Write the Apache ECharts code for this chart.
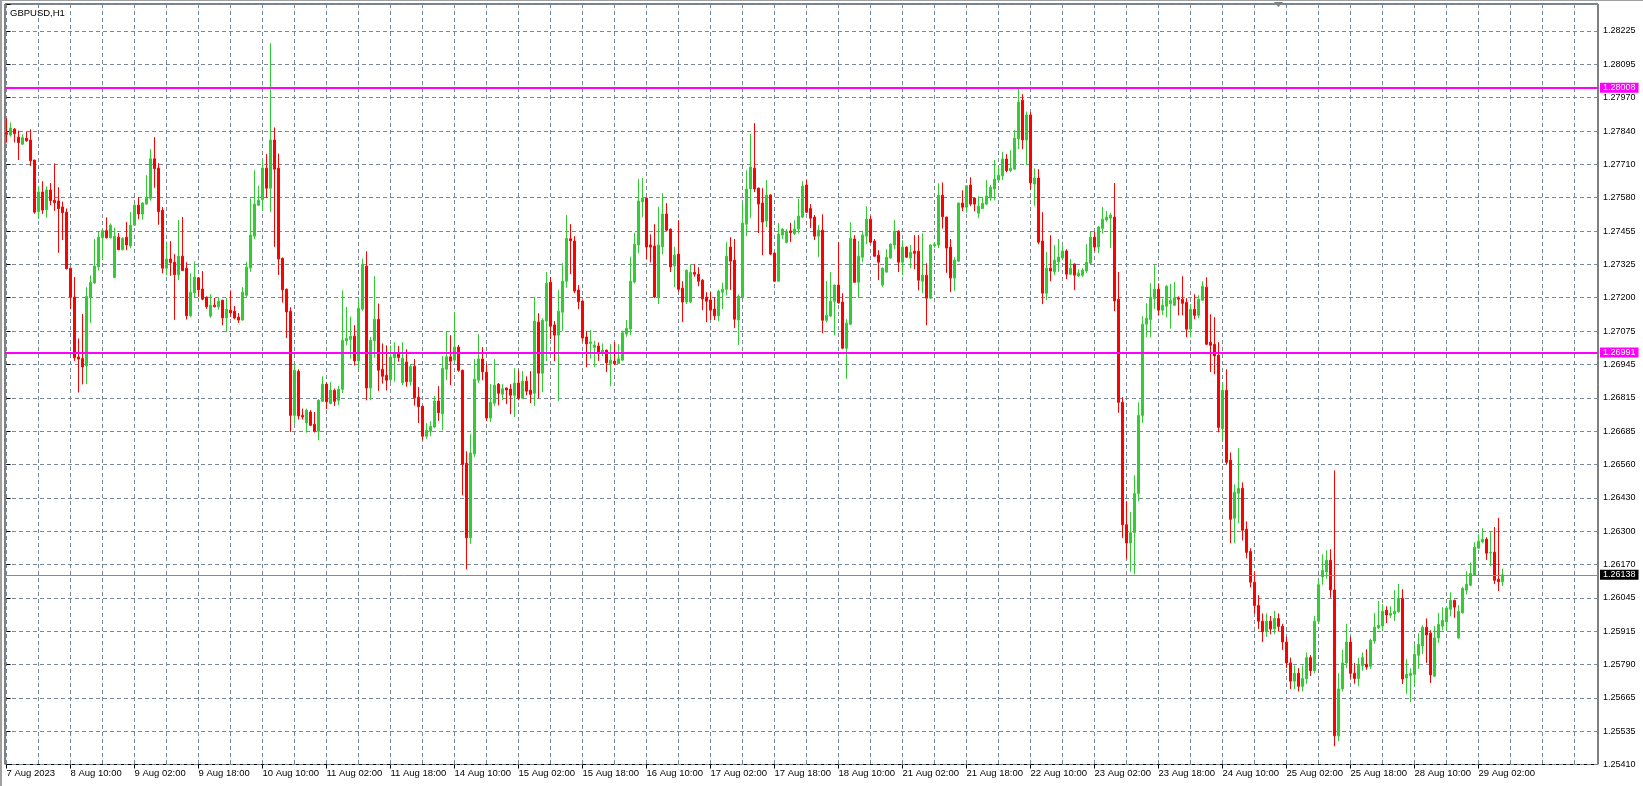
<!DOCTYPE html>
<html><head><meta charset="utf-8">
<script src="https://cdn.jsdelivr.net/npm/echarts@6/dist/echarts.min.js"></script>
<style>html,body{margin:0;padding:0;background:#fff;}#c{width:1643px;height:786px;}</style>
</head><body><div id="c"></div>
<script>
const symbolName = 'GBPUSD,H1';
// Each candle: [open, close, low, high]  (H1 bars)
const aug07 = [[1.27835,1.27829,1.27797,1.27890],[1.27826,1.27853,1.27820,1.27875],[1.27849,1.27831,1.27798,1.27852],[1.27818,1.27797,1.27730,1.27843],[1.27791,1.27816,1.27788,1.27829],[1.27814,1.27804,1.27800,1.27838]];
const aug08 = [[1.27807,1.27727,1.27707,1.27848],[1.27730,1.27530,1.27524,1.27731],[1.27532,1.27607,1.27505,1.27630],[1.27607,1.27538,1.27523,1.27649],[1.27539,1.27615,1.27509,1.27629],[1.27615,1.27574,1.27557,1.27642],[1.27576,1.27566,1.27535,1.27717],[1.27573,1.27543,1.27374,1.27626],[1.27550,1.27528,1.27423,1.27570],[1.27530,1.27313,1.27310,1.27544],[1.27315,1.27204,1.27158,1.27318],[1.27204,1.26971,1.26959,1.27281],[1.26974,1.26966,1.26838,1.27045],[1.26968,1.26936,1.26869,1.27139],[1.26940,1.27206,1.26870,1.27242],[1.27204,1.27260,1.27104,1.27287],[1.27258,1.27323,1.27254,1.27427],[1.27320,1.27434,1.27306,1.27454],[1.27432,1.27459,1.27350,1.27462],[1.27459,1.27432,1.27429,1.27510],[1.27432,1.27480,1.27428,1.27487],[1.27279,1.27438,1.27278,1.27471],[1.27434,1.27386,1.27384,1.27450],[1.27386,1.27430,1.27383,1.27434]];
const aug09 = [[1.27434,1.27404,1.27384,1.27492],[1.27400,1.27480,1.27391,1.27530],[1.27480,1.27557,1.27478,1.27560],[1.27557,1.27523,1.27503,1.27588],[1.27523,1.27565,1.27501,1.27569],[1.27561,1.27588,1.27560,1.27672],[1.27583,1.27735,1.27574,1.27772],[1.27735,1.27697,1.27624,1.27818],[1.27699,1.27532,1.27482,1.27718],[1.27537,1.27315,1.27295,1.27550],[1.27315,1.27350,1.27287,1.27418],[1.27350,1.27337,1.27286,1.27419],[1.27338,1.27290,1.27117,1.27369],[1.27290,1.27361,1.27269,1.27500],[1.27361,1.27306,1.27304,1.27511],[1.27315,1.27132,1.27118,1.27338],[1.27132,1.27223,1.27126,1.27296],[1.27221,1.27281,1.27204,1.27341],[1.27278,1.27232,1.27205,1.27281],[1.27235,1.27196,1.27192,1.27304],[1.27204,1.27167,1.27159,1.27206],[1.27131,1.27173,1.27124,1.27215],[1.27173,1.27167,1.27165,1.27201],[1.27167,1.27188,1.27156,1.27201]];
const aug10 = [[1.27192,1.27124,1.27096,1.27195],[1.27124,1.27157,1.27070,1.27201],[1.27154,1.27143,1.27128,1.27230],[1.27150,1.27124,1.27119,1.27170],[1.27127,1.27116,1.27105,1.27143],[1.27116,1.27223,1.27113,1.27243],[1.27211,1.27319,1.27205,1.27339],[1.27316,1.27442,1.27301,1.27583],[1.27438,1.27561,1.27426,1.27691],[1.27557,1.27576,1.27554,1.27631],[1.27578,1.27699,1.27535,1.27729],[1.27699,1.27622,1.27584,1.27753],[1.27622,1.27807,1.27531,1.28178],[1.27807,1.27695,1.27397,1.27855],[1.27699,1.27350,1.27289,1.27755],[1.27353,1.27232,1.27183,1.27356],[1.27234,1.27147,1.27047,1.27237],[1.27150,1.26750,1.26686,1.27165],[1.26750,1.26923,1.26718,1.26946],[1.26919,1.26748,1.26734,1.26927],[1.26750,1.26744,1.26734,1.26776],[1.26721,1.26770,1.26684,1.26776],[1.26763,1.26712,1.26709,1.26770],[1.26716,1.26689,1.26684,1.26763]];
const aug11 = [[1.26689,1.26808,1.26654,1.26812],[1.26804,1.26870,1.26802,1.26900],[1.26870,1.26802,1.26774,1.26876],[1.26795,1.26846,1.26793,1.26878],[1.26846,1.26804,1.26786,1.26853],[1.26808,1.26850,1.26789,1.26863],[1.26850,1.27038,1.26836,1.27230],[1.27036,1.27045,1.27019,1.27166],[1.27042,1.27054,1.26968,1.27129],[1.27054,1.26959,1.26942,1.27096],[1.26959,1.27161,1.26926,1.27196],[1.27158,1.27330,1.27151,1.27352],[1.27323,1.26855,1.26808,1.27380],[1.26855,1.27038,1.26808,1.27051],[1.27036,1.27119,1.26972,1.27284],[1.27119,1.26923,1.26844,1.27179],[1.26926,1.26900,1.26872,1.27026],[1.26904,1.26885,1.26846,1.27019],[1.26887,1.26974,1.26878,1.27018],[1.26972,1.26990,1.26879,1.27031],[1.26990,1.26972,1.26956,1.27016],[1.26875,1.26969,1.26866,1.27031],[1.26955,1.26879,1.26860,1.27004],[1.26879,1.26937,1.26864,1.26947]];
const aug14 = [[1.26939,1.26817,1.26787,1.26966],[1.26820,1.26783,1.26721,1.26859],[1.26785,1.26670,1.26655,1.26788],[1.26670,1.26693,1.26660,1.26720],[1.26689,1.26708,1.26670,1.26728],[1.26705,1.26805,1.26701,1.26825],[1.26805,1.26760,1.26729,1.26862],[1.26756,1.26931,1.26693,1.26978],[1.26927,1.26975,1.26885,1.27070],[1.26975,1.26958,1.26866,1.27058],[1.26962,1.27012,1.26960,1.27146],[1.27012,1.26923,1.26917,1.27020],[1.26923,1.26562,1.26443,1.26926],[1.26566,1.26280,1.26159,1.26612],[1.26280,1.26606,1.26257,1.26678],[1.26602,1.26889,1.26591,1.26966],[1.26885,1.26966,1.26875,1.27062],[1.26966,1.26917,1.26885,1.27012],[1.26916,1.26740,1.26728,1.26950],[1.26740,1.26800,1.26724,1.26870],[1.26797,1.26866,1.26786,1.26966],[1.26870,1.26835,1.26789,1.26874],[1.26831,1.26852,1.26808,1.26870],[1.26855,1.26847,1.26793,1.26857]];
const aug15 = [[1.26851,1.26827,1.26755,1.26870],[1.26827,1.26874,1.26743,1.26931],[1.26874,1.26816,1.26808,1.26923],[1.26816,1.26881,1.26813,1.26920],[1.26881,1.26843,1.26827,1.26900],[1.26847,1.26831,1.26797,1.26920],[1.26835,1.27112,1.26786,1.27204],[1.27108,1.26912,1.26816,1.27142],[1.26912,1.27115,1.26839,1.27123],[1.27112,1.27257,1.26958,1.27300],[1.27261,1.27092,1.27043,1.27281],[1.27097,1.27058,1.26958,1.27112],[1.27058,1.27150,1.26805,1.27231],[1.27146,1.27265,1.27074,1.27334],[1.27265,1.27430,1.27240,1.27519],[1.27428,1.27420,1.27292,1.27484],[1.27419,1.27227,1.27219,1.27438],[1.27231,1.27186,1.27158,1.27250],[1.27189,1.27047,1.27035,1.27191],[1.27051,1.27024,1.26935,1.27074],[1.27026,1.27032,1.26968,1.27077],[1.27011,1.27020,1.26936,1.27036],[1.27016,1.26990,1.26959,1.27030],[1.26990,1.27000,1.26977,1.27026]];
const aug16 = [[1.27000,1.26952,1.26916,1.27003],[1.26949,1.26962,1.26862,1.27023],[1.26958,1.26949,1.26943,1.27032],[1.26949,1.26967,1.26947,1.27023],[1.26962,1.27067,1.26958,1.27075],[1.27062,1.27084,1.27052,1.27116],[1.27081,1.27265,1.27058,1.27359],[1.27262,1.27407,1.27256,1.27451],[1.27404,1.27573,1.27372,1.27657],[1.27569,1.27584,1.27510,1.27661],[1.27584,1.27396,1.27351,1.27587],[1.27404,1.27396,1.27337,1.27445],[1.27400,1.27204,1.27201,1.27484],[1.27204,1.27404,1.27177,1.27551],[1.27397,1.27523,1.27369,1.27603],[1.27523,1.27461,1.27458,1.27565],[1.27465,1.27320,1.27300,1.27467],[1.27324,1.27365,1.27243,1.27397],[1.27369,1.27234,1.27224,1.27499],[1.27238,1.27185,1.27108,1.27265],[1.27185,1.27307,1.27177,1.27311],[1.27185,1.27299,1.27182,1.27330],[1.27299,1.27292,1.27282,1.27330],[1.27292,1.27265,1.27246,1.27319]];
const aug17 = [[1.27269,1.27197,1.27154,1.27274],[1.27204,1.27188,1.27108,1.27223],[1.27193,1.27154,1.27116,1.27223],[1.27158,1.27132,1.27116,1.27204],[1.27132,1.27227,1.27112,1.27231],[1.27223,1.27234,1.27158,1.27259],[1.27234,1.27361,1.27211,1.27415],[1.27396,1.27342,1.27231,1.27434],[1.27346,1.27119,1.27085,1.27427],[1.27116,1.27207,1.27019,1.27215],[1.27204,1.27488,1.27201,1.27561],[1.27484,1.27619,1.27438,1.27691],[1.27619,1.27703,1.27507,1.27830],[1.27699,1.27619,1.27607,1.27872],[1.27622,1.27561,1.27450,1.27625],[1.27565,1.27492,1.27365,1.27622],[1.27496,1.27596,1.27473,1.27653],[1.27596,1.27369,1.27365,1.27599],[1.27373,1.27265,1.27262,1.27375],[1.27265,1.27446,1.27262,1.27488],[1.27442,1.27465,1.27427,1.27469],[1.27414,1.27457,1.27410,1.27465],[1.27458,1.27451,1.27415,1.27489],[1.27448,1.27465,1.27442,1.27499]];
const aug18 = [[1.27465,1.27515,1.27448,1.27582],[1.27511,1.27630,1.27507,1.27649],[1.27634,1.27530,1.27528,1.27653],[1.27544,1.27507,1.27469,1.27561],[1.27511,1.27438,1.27423,1.27519],[1.27438,1.27461,1.27357,1.27480],[1.27461,1.27115,1.27065,1.27522],[1.27115,1.27134,1.27107,1.27266],[1.27131,1.27188,1.27127,1.27300],[1.27188,1.27250,1.27057,1.27252],[1.27250,1.27182,1.27179,1.27415],[1.27185,1.27008,1.27004,1.27219],[1.27008,1.27104,1.26890,1.27119],[1.27100,1.27430,1.27097,1.27492],[1.27427,1.27261,1.27259,1.27442],[1.27261,1.27361,1.27201,1.27419],[1.27357,1.27442,1.27338,1.27453],[1.27438,1.27503,1.27407,1.27553],[1.27503,1.27415,1.27411,1.27515],[1.27419,1.27361,1.27359,1.27427],[1.27365,1.27338,1.27269,1.27384],[1.27250,1.27315,1.27243,1.27318],[1.27300,1.27357,1.27297,1.27388],[1.27354,1.27407,1.27351,1.27410]];
const aug21 = [[1.27404,1.27457,1.27388,1.27499],[1.27457,1.27338,1.27300,1.27460],[1.27338,1.27396,1.27288,1.27422],[1.27396,1.27357,1.27355,1.27398],[1.27354,1.27376,1.27315,1.27404],[1.27380,1.27372,1.27311,1.27442],[1.27380,1.27269,1.27230,1.27442],[1.27265,1.27288,1.27219,1.27449],[1.27288,1.27200,1.27096,1.27334],[1.27200,1.27404,1.27196,1.27407],[1.27401,1.27407,1.27393,1.27416],[1.27404,1.27595,1.27392,1.27641],[1.27595,1.27512,1.27467,1.27644],[1.27511,1.27392,1.27297,1.27513],[1.27396,1.27277,1.27223,1.27427],[1.27277,1.27346,1.27228,1.27357],[1.27342,1.27565,1.27339,1.27567],[1.27565,1.27549,1.27534,1.27614],[1.27549,1.27631,1.27528,1.27634],[1.27634,1.27561,1.27553,1.27664],[1.27584,1.27561,1.27534,1.27586],[1.27526,1.27553,1.27507,1.27591],[1.27544,1.27564,1.27542,1.27589],[1.27561,1.27592,1.27557,1.27653]];
const aug22 = [[1.27584,1.27626,1.27574,1.27634],[1.27619,1.27657,1.27575,1.27730],[1.27653,1.27672,1.27647,1.27711],[1.27670,1.27734,1.27653,1.27762],[1.27734,1.27689,1.27683,1.27753],[1.27689,1.27699,1.27683,1.27768],[1.27695,1.27814,1.27693,1.27845],[1.27811,1.27953,1.27772,1.28003],[1.27960,1.27807,1.27772,1.27983],[1.27807,1.27903,1.27711,1.27916],[1.27903,1.27642,1.27615,1.27913],[1.27638,1.27661,1.27555,1.27698],[1.27661,1.27415,1.27407,1.27695],[1.27419,1.27219,1.27177,1.27530],[1.27219,1.27315,1.27192,1.27377],[1.27315,1.27304,1.27265,1.27442],[1.27301,1.27346,1.27288,1.27404],[1.27340,1.27358,1.27301,1.27427],[1.27354,1.27381,1.27346,1.27404],[1.27381,1.27292,1.27273,1.27388],[1.27292,1.27315,1.27288,1.27350],[1.27331,1.27288,1.27231,1.27333],[1.27285,1.27296,1.27281,1.27311],[1.27288,1.27308,1.27281,1.27315]];
const aug23 = [[1.27304,1.27338,1.27297,1.27407],[1.27334,1.27434,1.27331,1.27454],[1.27434,1.27396,1.27381,1.27454],[1.27396,1.27473,1.27373,1.27477],[1.27468,1.27503,1.27448,1.27550],[1.27500,1.27511,1.27493,1.27534],[1.27507,1.27519,1.27392,1.27526],[1.27511,1.27189,1.27150,1.27642],[1.27196,1.26800,1.26760,1.27300],[1.26800,1.26330,1.26280,1.26820],[1.26330,1.26260,1.26200,1.26420],[1.26260,1.26300,1.26150,1.26380],[1.26300,1.26450,1.26140,1.26520],[1.26450,1.26750,1.26420,1.26800],[1.26750,1.27100,1.26720,1.27130],[1.27100,1.27123,1.27050,1.27180],[1.27118,1.27204,1.27050,1.27257],[1.27198,1.27234,1.27158,1.27326],[1.27234,1.27154,1.27135,1.27257],[1.27154,1.27173,1.27135,1.27198],[1.27169,1.27246,1.27126,1.27250],[1.27179,1.27192,1.27083,1.27255],[1.27173,1.27201,1.27170,1.27262],[1.27201,1.27196,1.27134,1.27207]];
const aug24 = [[1.27196,1.27180,1.27134,1.27284],[1.27184,1.27081,1.27050,1.27200],[1.27081,1.27157,1.27050,1.27177],[1.27157,1.27134,1.27119,1.27215],[1.27134,1.27196,1.27123,1.27211],[1.27192,1.27246,1.27189,1.27265],[1.27242,1.27023,1.27020,1.27280],[1.27031,1.27019,1.26916,1.27138],[1.27023,1.26978,1.26908,1.27127],[1.26981,1.26704,1.26685,1.27031],[1.26700,1.26846,1.26658,1.26877],[1.26846,1.26570,1.26562,1.26927],[1.26578,1.26351,1.26259,1.26608],[1.26355,1.26455,1.26259,1.26485],[1.26451,1.26470,1.26336,1.26624],[1.26470,1.26309,1.26270,1.26493],[1.26313,1.26224,1.26201,1.26343],[1.26228,1.26110,1.26090,1.26240],[1.26110,1.26020,1.25990,1.26150],[1.26020,1.25960,1.25930,1.26060],[1.25960,1.25920,1.25880,1.25990],[1.25920,1.25960,1.25900,1.25990],[1.25960,1.25930,1.25910,1.25980],[1.25930,1.25970,1.25910,1.26000]];
const aug25 = [[1.25970,1.25940,1.25920,1.25990],[1.25940,1.25880,1.25850,1.25950],[1.25880,1.25800,1.25780,1.25900],[1.25800,1.25730,1.25700,1.25820],[1.25730,1.25760,1.25700,1.25790],[1.25760,1.25710,1.25690,1.25780],[1.25710,1.25740,1.25690,1.25790],[1.25740,1.25820,1.25720,1.25840],[1.25820,1.25770,1.25750,1.25830],[1.25770,1.25960,1.25760,1.25980],[1.25960,1.26100,1.25950,1.26120],[1.26130,1.26155,1.26100,1.26217],[1.26149,1.26194,1.26123,1.26232],[1.26194,1.26080,1.26050,1.26236],[1.26080,1.25520,1.25480,1.26539],[1.25520,1.25700,1.25500,1.25760],[1.25700,1.25800,1.25690,1.25850],[1.25800,1.25880,1.25780,1.25950],[1.25880,1.25760,1.25740,1.25900],[1.25760,1.25740,1.25720,1.25800],[1.25740,1.25790,1.25710,1.25820],[1.25790,1.25820,1.25770,1.25840],[1.25795,1.25784,1.25774,1.25852],[1.25787,1.25887,1.25777,1.25893]];
const aug28 = [[1.25884,1.25937,1.25874,1.25992],[1.25934,1.25944,1.25930,1.26038],[1.25942,1.25998,1.25921,1.26025],[1.26002,1.25984,1.25953,1.26017],[1.25983,1.25990,1.25973,1.26017],[1.25988,1.25998,1.25961,1.26079],[1.25996,1.26048,1.25992,1.26103],[1.26048,1.25738,1.25719,1.26083],[1.25742,1.25756,1.25681,1.25814],[1.25752,1.25760,1.25650,1.25779],[1.25756,1.25833,1.25715,1.25871],[1.25829,1.25871,1.25777,1.25914],[1.25865,1.25937,1.25834,1.25944],[1.25937,1.25907,1.25800,1.25971],[1.25914,1.25754,1.25723,1.25925],[1.25749,1.25896,1.25746,1.25942],[1.25896,1.25948,1.25877,1.25992],[1.25941,1.25964,1.25925,1.26014],[1.25957,1.26010,1.25925,1.26017],[1.26006,1.26040,1.25979,1.26071],[1.26040,1.26014,1.25973,1.26043],[1.25896,1.25998,1.25893,1.26022],[1.25992,1.26086,1.25989,1.26092],[1.26079,1.26102,1.26063,1.26152]];
const aug29 = [[1.26098,1.26143,1.26095,1.26185],[1.26136,1.26244,1.26133,1.26263],[1.26240,1.26267,1.26238,1.26294],[1.26264,1.26275,1.26259,1.26317],[1.26275,1.26221,1.26195,1.26282],[1.26222,1.26225,1.26172,1.26303],[1.26225,1.26117,1.26103,1.26321],[1.26121,1.26111,1.26076,1.26357],[1.26111,1.26138,1.26095,1.26162]];

const tradingDays = [aug07, aug08, aug09, aug10, aug11, aug14, aug15, aug16, aug17, aug18, aug21, aug22, aug23, aug24, aug25, aug28, aug29];
const xTickLabels = ['7 Aug 2023','8 Aug 10:00','9 Aug 02:00','9 Aug 18:00','10 Aug 10:00','11 Aug 02:00','11 Aug 18:00','14 Aug 10:00','15 Aug 02:00','15 Aug 18:00','16 Aug 10:00','17 Aug 02:00','17 Aug 18:00','18 Aug 10:00','21 Aug 02:00','21 Aug 18:00','22 Aug 10:00','23 Aug 02:00','23 Aug 18:00','24 Aug 10:00','25 Aug 02:00','25 Aug 18:00','28 Aug 10:00','29 Aug 02:00'];
const yTickLabels = ['1.25410','1.25535','1.25665','1.25790','1.25915','1.26045','1.26170','1.26300','1.26430','1.26560','1.26685','1.26815','1.26945','1.27075','1.27200','1.27325','1.27455','1.27580','1.27710','1.27840','1.27970','1.28095','1.28225'];
const levelLines = [1.28008, 1.26991];
const lastPrice = 1.26138;

const candles = [];
tradingDays.forEach(day => day.forEach(c => candles.push([candles.length, c[0], c[1], c[2], c[3]])));

const BARS_PER_LABEL = 16;
const BARS_PER_GRID = 8;
const yStep = 1.2541 / 980;
const yMin = yStep * 980;
const yMax = 1.28329;
const xMin = -0.375, xMax = 397.875;
const labelBars = xTickLabels.map((_, k) => k * BARS_PER_LABEL);
const gridBars = [];
for (let b = 0; b <= 392; b += BARS_PER_GRID) gridBars.push(b);
const FONT = 'Liberation Sans, Arial, sans-serif';
const gridLine = { color: '#778899', type: [4, 3], width: 1 };

const chart = echarts.init(document.getElementById('c'), null, { renderer: 'canvas' });
chart.setOption({
  animation: false,
  backgroundColor: '#ffffff',
  title: { text: symbolName, left: 10, top: 8, padding: 0, z: 120, textStyle: { fontSize: 9.5, fontWeight: 'normal', color: '#000', fontFamily: FONT } },
  grid: { left: 5, top: 4, right: 45, bottom: 21.5, show: true, borderColor: '#000', borderWidth: 1, backgroundColor: '#fff' },
  xAxis: [
    { type: 'value', position: 'top', min: xMin, max: xMax, interval: BARS_PER_GRID, axisLine: { show: false },
      axisTick: { show: false, customValues: gridBars }, axisLabel: { show: false, customValues: gridBars },
      splitLine: { show: true, lineStyle: gridLine } },
    { type: 'value', position: 'bottom', min: xMin, max: xMax, interval: BARS_PER_LABEL, axisLine: { show: false }, splitLine: { show: false },
      axisTick: { show: true, length: 4, lineStyle: { color: '#000' }, customValues: labelBars },
      axisLabel: { show: true, align: 'left', margin: 4, fontSize: 9.5, color: '#000', fontFamily: FONT, hideOverlap: false, customValues: labelBars,
        formatter: v => { const n = Number(v); const k = Math.round(n / BARS_PER_LABEL); if (!(Math.abs(n - k * BARS_PER_LABEL) < 0.01) || k < 0) return ''; return xTickLabels[k] || ''; } } }
  ],
  yAxis: {
    type: 'value', position: 'right', min: yMin, max: yMax, interval: yStep, scale: true,
    axisLine: { show: false }, axisTick: { show: true, length: 4, lineStyle: { color: '#000' } },
    axisLabel: { margin: 5, fontSize: 9, color: '#000', fontFamily: FONT,
      formatter: v => { const k = Math.round((v - yMin) / yStep); if (Math.abs(v - (yMin + k * yStep)) > yStep * 0.02) return ''; return yTickLabels[k] || ''; } },
    splitLine: { show: true, lineStyle: gridLine }
  },
  series: [{
    type: 'candlestick', xAxisIndex: 0, yAxisIndex: 0, silent: true,
    data: candles, encode: { x: 0, y: [1, 2, 3, 4] },
    barWidth: 2,
    itemStyle: { color: '#32CD32', color0: '#FF0000', borderColor: '#32CD32', borderColor0: '#FF0000', borderWidth: 1 },
    markLine: {
      symbol: 'none', silent: true, animation: false, precision: 5,
      data: [
        ...levelLines.map(v => ({ yAxis: v, lineStyle: { color: '#FF00FF', width: 2, type: 'solid' },
          label: { show: true, position: 'end', distance: 2, formatter: () => v.toFixed(5), color: '#fff', backgroundColor: '#FF00FF', padding: [1, 3, 0, 3], fontSize: 9, fontFamily: FONT } })),
        { yAxis: lastPrice, lineStyle: { color: '#8a8a8a', width: 1, type: 'solid' },
          label: { show: true, position: 'end', distance: 2, formatter: () => lastPrice.toFixed(5), color: '#fff', backgroundColor: '#000', padding: [1, 3, 0, 3], fontSize: 9, fontFamily: FONT } }
      ]
    }
  }],
  graphic: [
    { type: 'rect', shape: { x: 0, y: 0, width: 1643, height: 1 }, style: { fill: '#a0a0a0' }, z: 101 },
    { type: 'rect', shape: { x: 0, y: 0, width: 2, height: 786 }, style: { fill: '#a0a0a0' }, z: 101 },
    { type: 'polygon', shape: { points: [[1274, 2], [1283, 2], [1278.5, 7]] }, style: { fill: '#808080' }, z: 101 }
  ]
});
</script></body></html>
